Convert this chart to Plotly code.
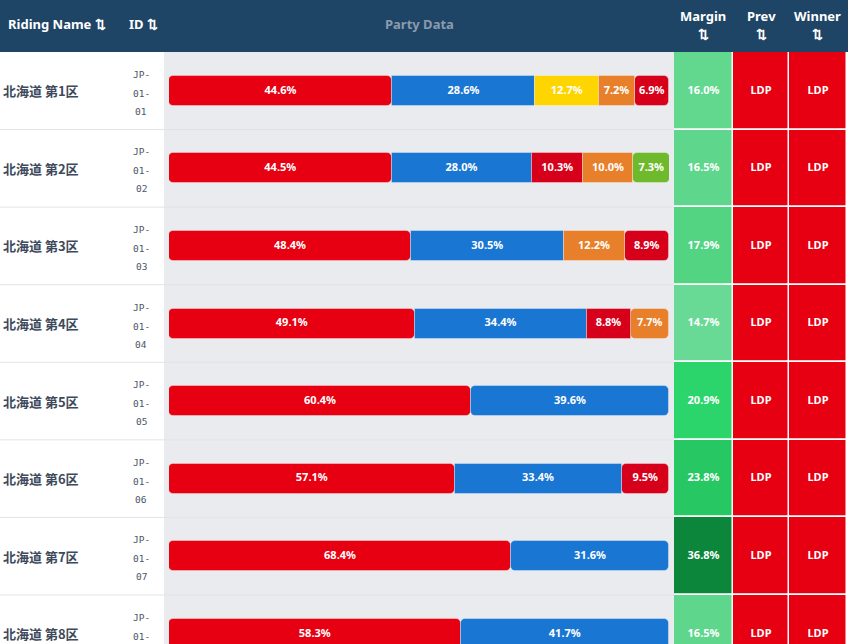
import plotly.graph_objects as go

# ---------------- data ----------------
ridings = ["北海道 第1区", "北海道 第2区", "北海道 第3区", "北海道 第4区",
           "北海道 第5区", "北海道 第6区", "北海道 第7区", "北海道 第8区"]
riding_ids = ["JP-01-01", "JP-01-02", "JP-01-03", "JP-01-04",
              "JP-01-05", "JP-01-06", "JP-01-07", "JP-01-08"]

ldp      = [44.6, 44.5, 48.4, 49.1, 60.4, 57.1, 68.4, 58.3]
cdp      = [28.6, 28.0, 30.5, 34.4, 39.6, 33.4, 31.6, 41.7]
dpfp     = [12.7, None, None, None, None, None, None, None]
sanseito = [7.2, 10.0, 12.2, 7.7, None, None, None, None]
jcp      = [6.9, 10.3, 8.9, 8.8, None, 9.5, None, None]
ishin    = [None, 7.3, None, None, None, None, None, None]

margins = [16.0, 16.5, 17.9, 14.7, 20.9, 23.8, 36.8, 16.5]
prev_winner = ["LDP"] * 8
winner = ["LDP"] * 8

party_series = {"LDP": ldp, "CDP": cdp, "DPFP": dpfp,
                "Sanseito": sanseito, "JCP": jcp, "Ishin": ishin}
party_colors = {"LDP": "#e60012", "CDP": "#1976d2", "DPFP": "#ffd500",
                "Sanseito": "#e87f2a", "JCP": "#d7001b", "Ishin": "#6fba2c"}

# ---------------- layout constants ----------------
W, H = 848, 644
HEADER = 52
ROW_H = 77.57
n = len(ridings)
y_top = -0.5
y_bot = -0.5 + (H - HEADER) / ROW_H
ydom_top = (H - HEADER) / H

FONT = "Noto Sans, Open Sans, sans-serif"
BAR_TXT = dict(family=FONT, size=11, color="white", weight="bold")
SEG_LINE = dict(color="rgba(255,255,255,0.35)", width=1)

fig = go.Figure()

# ---- party bars: segments ordered by share within each row ----
ranked = []
for i in range(n):
    items = [(p, v[i]) for p, v in party_series.items() if v[i] is not None]
    items.sort(key=lambda t: -t[1])
    ranked.append(items)
max_rank = max(len(r) for r in ranked)

# role groups: first segment (drawn leftwards -> rounded left end),
# middle segments (square), last segment (rounded right end)
groups = {"first": [], "last": []}
for k in range(1, max_rank - 1):
    groups[f"mid{k}"] = []

seg_x, seg_y, seg_t = [], [], []
for i, items in enumerate(ranked):
    start = 0.0
    m = len(items)
    for k, (p, v) in enumerate(items):
        if k == 0:
            role = "first"
        elif k == m - 1:
            role = "last"
        else:
            role = f"mid{k}"
        groups[role].append((i, start, v, party_colors[p]))
        seg_x.append(start + v / 2)
        seg_y.append(i)
        seg_t.append(f"{v:.1f}%")
        start += v

for role, segs in groups.items():
    if not segs:
        continue
    ys = [s[0] for s in segs]
    if role == "first":
        xs = [-s[2] for s in segs]
        bases = [s[1] + s[2] for s in segs]
        rad = 5
    else:
        xs = [s[2] for s in segs]
        bases = [s[1] for s in segs]
        rad = 5 if role == "last" else 0
    fig.add_trace(go.Bar(
        x=xs, y=ys, base=bases, orientation="h", xaxis="x", yaxis="y",
        width=30 / ROW_H,
        marker=dict(color=[s[3] for s in segs], line=SEG_LINE, cornerradius=rad),
        hoverinfo="skip", showlegend=False))

fig.add_trace(go.Scatter(
    x=seg_x, y=seg_y, text=seg_t, mode="text", xaxis="x", yaxis="y",
    textposition="middle center", textfont=BAR_TXT,
    hoverinfo="skip", showlegend=False))

# ---- margin / prev / winner cells ----
margin_scale = [[0.0, "#6cdb98"], [0.09, "#62d78e"], [0.17, "#53d483"],
                [0.30, "#2bd56c"], [0.43, "#27c863"], [1.0, "#0c853a"]]
fig.add_trace(go.Bar(
    x=[1] * n, y=list(range(n)), orientation="h", xaxis="x2", yaxis="y",
    width=1,
    marker=dict(color=margins, colorscale=margin_scale, cmin=14.0, cmax=37.0,
                line=dict(color="white", width=1.5), cornerradius=0),
    hoverinfo="skip", showlegend=False))
fig.add_trace(go.Scatter(
    x=[0.5] * n, y=list(range(n)), text=[f"{m:.1f}%" for m in margins],
    mode="text", xaxis="x2", yaxis="y", textposition="middle center",
    textfont=BAR_TXT, hoverinfo="skip", showlegend=False))
for ax, vals in (("x3", prev_winner), ("x4", winner)):
    fig.add_trace(go.Bar(
        x=[1] * n, y=list(range(n)), orientation="h", xaxis=ax, yaxis="y",
        width=1,
        marker=dict(color=[party_colors[v] for v in vals],
                    line=dict(color="white", width=1.5), cornerradius=0),
        hoverinfo="skip", showlegend=False))
    fig.add_trace(go.Scatter(
        x=[0.5] * n, y=list(range(n)), text=vals, mode="text",
        xaxis=ax, yaxis="y", textposition="middle center",
        textfont=BAR_TXT, hoverinfo="skip", showlegend=False))

# ---- shapes: backgrounds, header, row lines ----
shapes = [
    dict(type="rect", xref="paper", yref="paper", x0=164 / W, x1=674 / W,
         y0=0, y1=ydom_top, fillcolor="#e9ebee", line=dict(width=0), layer="below"),
    dict(type="rect", xref="paper", yref="paper", x0=0, x1=1,
         y0=ydom_top, y1=1, fillcolor="#1f4566", line=dict(width=0), layer="below"),
]
for i in range(n):
    shapes.append(dict(type="line", xref="paper", yref="y", x0=0, x1=674 / W,
                       y0=i + 0.5, y1=i + 0.5,
                       line=dict(color="#dfe4ea", width=1), layer="below"))

# ---- annotations ----
ann = []
for i, (name, rid) in enumerate(zip(ridings, riding_ids)):
    ann.append(dict(text=name, xref="paper", yref="y", x=1 / W, y=i,
                    xanchor="left", yanchor="middle", showarrow=False,
                    font=dict(family="Noto Sans CJK JP", size=13,
                              color="#3e4a5b", weight="bold")))
    parts = rid.split("-")
    lines = [parts[0] + "-", parts[1] + "-", parts[2]]
    for ln, sh in zip(lines, (16.5, -2.5, -20.5)):
        ann.append(dict(text=ln, xref="paper", yref="y", x=141 / W, y=i,
                        yshift=sh, xanchor="center", yanchor="middle",
                        showarrow=False,
                        font=dict(family="DejaVu Sans Mono", size=9.5,
                                  color="#4a5568")))

hdr_font = dict(family=FONT, size=13, color="white", weight="bold")
arrow = "⇅"
def hy(px):
    return 1 - px / H
ann += [
    dict(text="Riding Name " + arrow, xref="paper", yref="paper", x=6 / W, y=hy(24),
         xanchor="left", yanchor="middle", showarrow=False, font=hdr_font),
    dict(text="ID " + arrow, xref="paper", yref="paper", x=127 / W, y=hy(24),
         xanchor="left", yanchor="middle", showarrow=False, font=hdr_font),
    dict(text="Party Data", xref="paper", yref="paper", x=419 / W, y=hy(24),
         xanchor="center", yanchor="middle", showarrow=False,
         font=dict(family=FONT, size=13, color="#8a9bae", weight="bold")),
]
for label, cx in (("Margin", 703), ("Prev", 761), ("Winner", 817)):
    ann.append(dict(text=label, xref="paper", yref="paper", x=cx / W, y=hy(16),
                    xanchor="center", yanchor="middle", showarrow=False, font=hdr_font))
    ann.append(dict(text=arrow, xref="paper", yref="paper", x=cx / W, y=hy(34),
                    xanchor="center", yanchor="middle", showarrow=False, font=hdr_font))

hidden = dict(visible=False, fixedrange=True)
fig.update_layout(
    width=W, height=H, margin=dict(l=0, r=0, t=0, b=0),
    paper_bgcolor="white", plot_bgcolor="rgba(0,0,0,0)",
    barmode="overlay", bargap=0, showlegend=False,
    xaxis=dict(domain=[169 / W, 669 / W], range=[0, 100], anchor="y", **hidden),
    xaxis2=dict(domain=[674 / W, 733 / W], range=[0, 1], anchor="y", **hidden),
    xaxis3=dict(domain=[733 / W, 789 / W], range=[0, 1], anchor="y", **hidden),
    xaxis4=dict(domain=[789 / W, 847 / W], range=[0, 1], anchor="y", **hidden),
    yaxis=dict(domain=[0, ydom_top], range=[y_bot, y_top], **hidden),
    shapes=shapes, annotations=ann,
)
fig.write_html("out.html")
